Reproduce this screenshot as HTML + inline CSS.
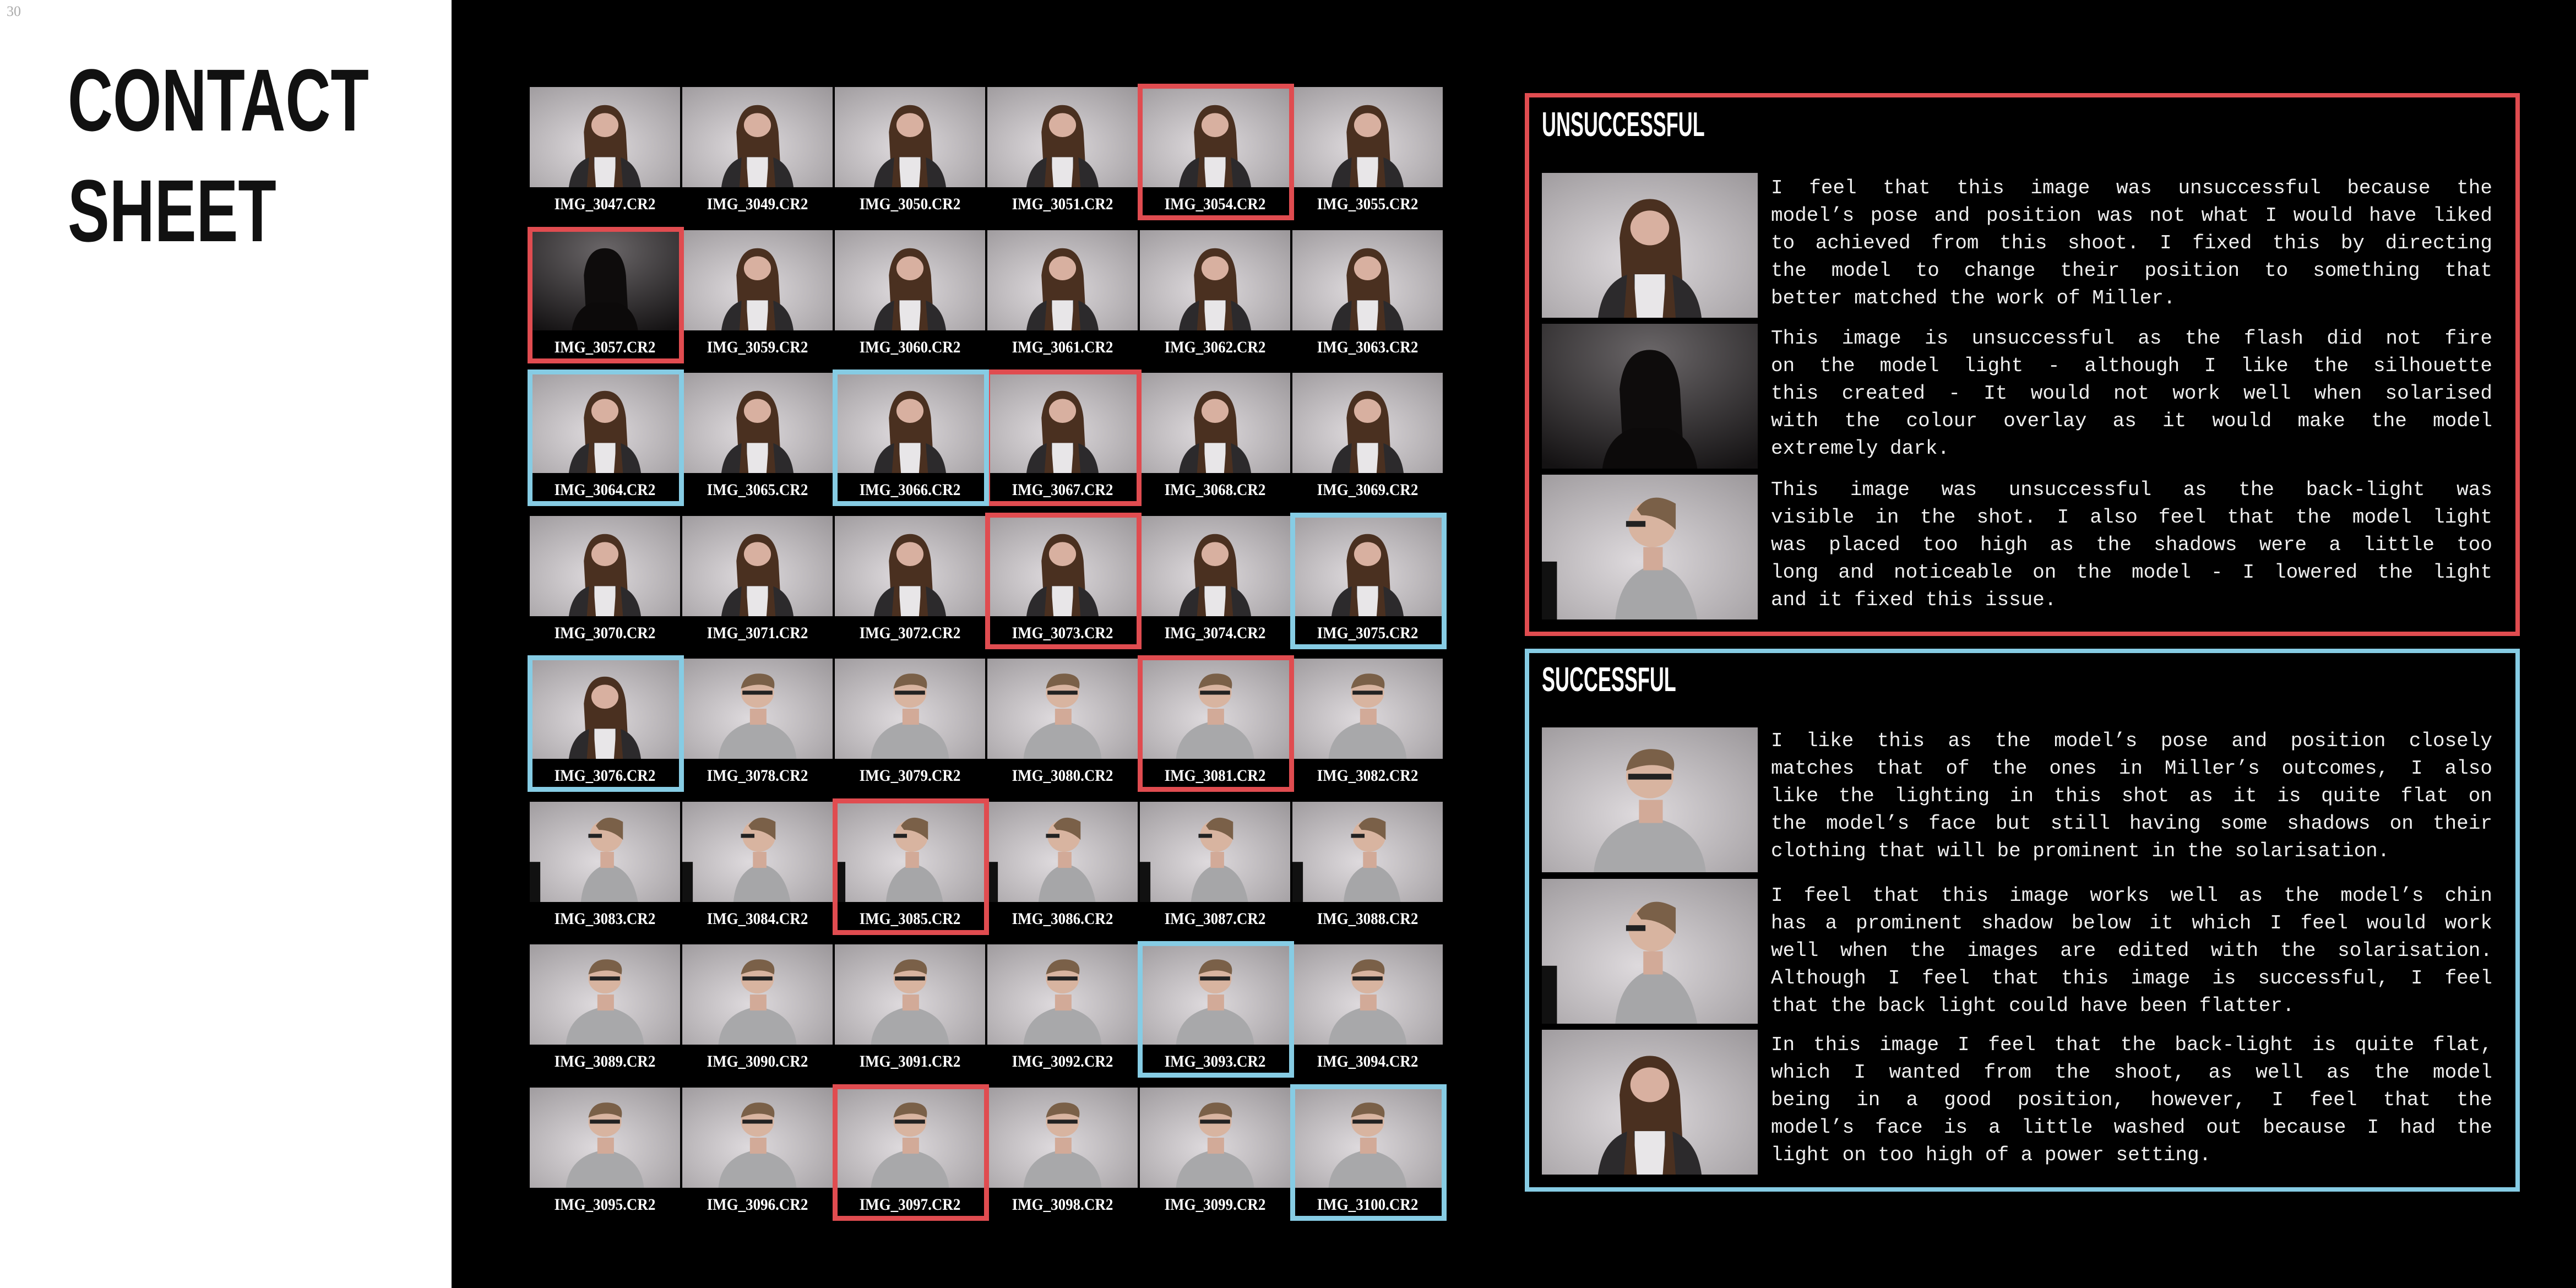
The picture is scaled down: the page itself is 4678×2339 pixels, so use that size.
<!DOCTYPE html>
<html><head><meta charset="utf-8">
<style>
html,body{margin:0;padding:0}
body{width:4678px;height:2339px;position:relative;background:#000;overflow:hidden;font-family:"Liberation Sans",sans-serif}
#left{position:absolute;left:0;top:0;width:820px;height:2339px;background:#fff}
.pg{position:absolute;left:12px;top:6px;font:26px "Liberation Serif",serif;color:#aaa}
.big{position:absolute;left:123px;font:bold 160px/1 "Liberation Sans",sans-serif;color:#111;transform:scaleX(0.71);transform-origin:0 0;white-space:nowrap}
.thumb{position:absolute;width:273px;height:182px}
.lab{position:absolute;width:273px;text-align:center;color:#fff;font:bold 30px "Liberation Serif",serif;transform:scaleX(0.9)}
.frame{position:absolute;box-sizing:border-box;border:9px solid}
.box{position:absolute;box-sizing:border-box;border:8px solid}
.ttl{position:absolute;left:2800px;color:#fff;font:bold 62px/1 "Liberation Sans",sans-serif;transform:scaleX(0.58);transform-origin:0 0;white-space:nowrap}
.side{position:absolute;left:2800px;width:392px;height:263px}
.para{position:absolute;left:3216px;width:1310px;color:#eee;font:36px/50px "Liberation Mono",monospace}
.para div{text-align:justify;text-align-last:justify;white-space:nowrap;overflow:visible}
.para div.l{text-align-last:left}
</style></head><body>
<div id="left">
<div class="pg">30</div>
<div class="big" style="top:102px">CONTACT</div>
<div class="big" style="top:303px">SHEET</div>
</div>
<div id="grid"></div>

<div class="box" style="left:2769px;top:169px;width:1807px;height:986px;border-color:#e04c50"></div>
<div class="ttl" style="top:196px">UNSUCCESSFUL</div>
<div class="box" style="left:2769px;top:1178px;width:1807px;height:986px;border-color:#86cce4"></div>
<div class="ttl" style="top:1204px">SUCCESSFUL</div>

<div class="para" style="top:317px">
<div>I feel that this image was unsuccessful because the</div>
<div>model’s pose and position was not what I would have liked</div>
<div>to achieved from this shoot. I fixed this by directing</div>
<div>the model to change their position to something that</div>
<div class="l">better matched the work of Miller.</div></div>
<div class="para" style="top:590px">
<div>This image is unsuccessful as the flash did not fire</div>
<div>on the model light - although I like the silhouette</div>
<div>this created - It would not work well when solarised</div>
<div>with the colour overlay as it would make the model</div>
<div class="l">extremely dark.</div></div>
<div class="para" style="top:865px">
<div>This image was unsuccessful as the back-light was</div>
<div>visible in the shot. I also feel that the model light</div>
<div>was placed too high as the shadows were a little too</div>
<div>long and noticeable on the model - I lowered the light</div>
<div class="l">and it fixed this issue.</div></div>
<div class="para" style="top:1321px">
<div>I like this as the model’s pose and position closely</div>
<div>matches that of the ones in Miller’s outcomes, I also</div>
<div>like the lighting in this shot as it is quite flat on</div>
<div>the model’s face but still having some shadows on their</div>
<div class="l">clothing that will be prominent in the solarisation.</div></div>
<div class="para" style="top:1602px">
<div>I feel that this image works well as the model’s chin</div>
<div>has a prominent shadow below it which I feel would work</div>
<div>well when the images are edited with the solarisation.</div>
<div>Although I feel that this image is successful, I feel</div>
<div class="l">that the back light could have been flatter.</div></div>
<div class="para" style="top:1873px">
<div>In this image I feel that the back-light is quite flat,</div>
<div>which I wanted from the shoot, as well as the model</div>
<div>being in a good position, however, I feel that the</div>
<div>model’s face is a little washed out because I had the</div>
<div class="l">light on too high of a power setting.</div></div>

<script>
const imgNumbers=[
[3047,3049,3050,3051,3054,3055],
[3057,3059,3060,3061,3062,3063],
[3064,3065,3066,3067,3068,3069],
[3070,3071,3072,3073,3074,3075],
[3076,3078,3079,3080,3081,3082],
[3083,3084,3085,3086,3087,3088],
[3089,3090,3091,3092,3093,3094],
[3095,3096,3097,3098,3099,3100]];
const redMarks=[[0,4],[1,0],[2,3],[3,3],[4,4],[5,2],[7,2]];
const blueMarks=[[2,0],[2,2],[3,5],[4,0],[6,4],[7,5]];

function svgPerson(kind,w,h,dark){
  const bg=dark?'<defs><radialGradient id="d" cx="0.5" cy="0.2" r="0.9"><stop offset="0" stop-color="#6a6668"/><stop offset="1" stop-color="#141213"/></radialGradient></defs><rect width="100" height="100" fill="url(#d)"/>'
   :'<defs><radialGradient id="g" cx="0.45" cy="0.6" r="0.8"><stop offset="0" stop-color="#dedadd"/><stop offset="1" stop-color="#9c989b"/></radialGradient></defs><rect width="100" height="100" fill="url(#g)"/>';
  let p='';
  if(kind==='girl'){
    const hair=dark?'#0e0c0c':'#4a3020';
    p='<path d="M38 100 L36 45 Q38 18 50 18 Q62 18 64 45 L66 100Z" fill="'+hair+'"/>'+
      (dark?'<path d="M28 100 Q30 78 42 72 L58 72 Q70 78 72 100Z" fill="#0c0a0a"/>':
      '<path d="M26 100 Q28 76 40 70 L60 70 Q72 76 74 100Z" fill="#2c2a2c"/><rect x="43" y="70" width="14" height="30" fill="#e8e6e8"/><ellipse cx="50" cy="38" rx="9" ry="12" fill="#d8b0a0"/><path d="M41 40 L38 100 L44 100 Z M59 40 L62 100 L56 100Z" fill="'+hair+'"/>');
  } else if(kind==='boyprofile'){
    p='<path d="M34 100 Q36 68 52 62 Q68 66 72 100Z" fill="#a6a6a8"/><rect x="47" y="50" width="9" height="16" fill="#d2aa98"/><ellipse cx="51" cy="34" rx="11" ry="16" fill="#d8b4a0"/><path d="M44 24 Q50 10 62 20 L62 38 Q55 28 46 28Z" fill="#7a6048"/><rect x="39" y="32" width="9" height="4" fill="#222"/><rect x="0" y="60" width="7" height="40" fill="#111"/>';
  } else {
    p='<path d="M24 100 Q26 68 50 62 Q74 68 76 100Z" fill="#a8a8aa"/><rect x="45" y="50" width="11" height="16" fill="#d2aa98"/><ellipse cx="50" cy="34" rx="11" ry="15" fill="#d8b4a0"/><path d="M39 30 Q41 14 52 15 Q63 16 61 30 Q52 22 39 30Z" fill="#7a6048"/><rect x="40" y="32" width="20" height="4" fill="#222"/>';
  }
  return '<svg width="'+w+'" height="'+h+'" viewBox="0 0 100 100" preserveAspectRatio="none">'+bg+p+'</svg>';
}
function kindFor(r,c){ if(r<4) return 'girl'; if(r===4&&c===0) return 'girl'; if(r===5) return 'boyprofile'; return 'boy'; }

const grid=document.getElementById('grid');
const colX=c=>962+277*c, rowY=r=>158+259.5*r;
imgNumbers.forEach((row,r)=>row.forEach((n,c)=>{
  const t=document.createElement('div');
  t.className='thumb';
  
  
  t.style.left=colX(c)+'px'; t.style.top=rowY(r)+'px';
  t.innerHTML=svgPerson(kindFor(r,c),273,182,n===3057);
  grid.appendChild(t);
  const l=document.createElement('div');
  l.className='lab';
  
  
  l.style.left=colX(c)+'px'; l.style.top=(rowY(r)+196)+'px';
  l.textContent='IMG_'+n+'.CR2';
  grid.appendChild(l);
}));
function addFrame(r,c,color,name){
  const f=document.createElement('div');
  f.className='frame';
  
  
  f.style.left=(colX(c)-4)+'px'; f.style.top=(rowY(r)-6)+'px';
  f.style.width='284px'; f.style.height='248px'; f.style.borderColor=color;
  grid.appendChild(f);
}
redMarks.forEach(m=>addFrame(m[0],m[1],'#e04c50','unsuccessful-frame'));
blueMarks.forEach(m=>addFrame(m[0],m[1],'#86cce4','successful-frame'));

const sideImgs=[[314,'girl',false],[588,'girl',true],[862,'boyprofile',false],[1321,'boy',false],[1596,'boyprofile',false],[1870,'girl',false]];
sideImgs.forEach((s,i)=>{
  const d=document.createElement('div');
  d.className='side';
  
  
  d.style.top=s[0]+'px';
  d.innerHTML=svgPerson(s[1],392,263,s[2]);
  document.body.appendChild(d);
});
</script>
</body></html>
